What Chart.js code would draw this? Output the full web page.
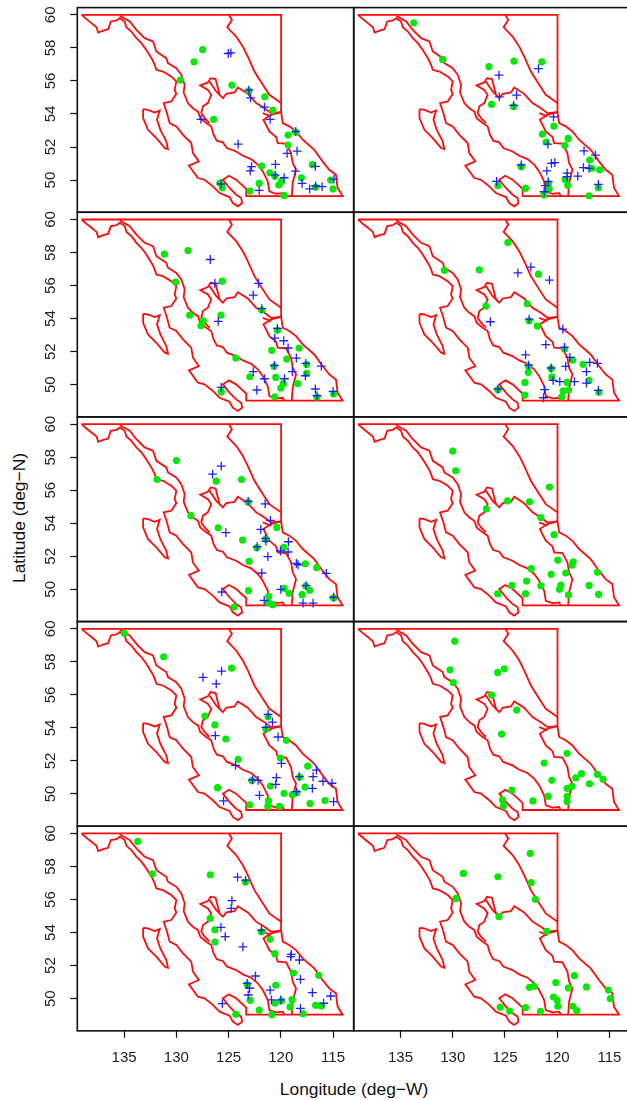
<!DOCTYPE html>
<html>
<head>
<meta charset="utf-8">
<script src="https://cdn.jsdelivr.net/npm/chart.js@4"></script>
<style>
  html, body { margin: 0; padding: 0; background: #fff; overflow: hidden; width: 627px; height: 1100px; }
  canvas { position: absolute; }
  .lab { position: absolute; font: 17.4px "Liberation Sans", Arial, sans-serif; color: #111; white-space: nowrap; }
</style>
</head>
<body>
<div class="lab" id="xlab" style="left:354px; top:1079px; transform:translateX(-50%)">Longitude (deg−W)</div>
<div class="lab" id="ylab" style="left:19px; top:518px; transform:translate(-50%,-50%) rotate(-90deg)">Latitude (deg−N)</div>
<script>
"use strict";

// map outlines, [lon, lat]
const coastOuter = [[139.07,60],[138.6,59.74],[138.12,59.5],[137.64,59.25],[137.48,58.93],[137,59.05],[136.53,59.13],[136.27,59.6],[135.73,59.66],[135.41,59.8],[134.94,59.6],[134.78,59.25],[134.3,58.99],[133.82,58.59],[133.34,58.29],[132.87,57.88],[132.29,57.28],[132.07,56.98],[131.91,56.67],[131.27,56.57],[130.48,56.27],[130,55.97],[130.16,55.46],[130,55.22],[130.48,54.76],[131.21,54.66],[130.89,54.05],[130.64,53.45],[130,53.25],[129.36,52.74],[128.57,52.24],[128.41,51.63],[127.84,51.13],[128.79,50.87],[127.93,50.12],[127.29,50.02],[126.5,49.62],[125.86,49.21],[124.91,48.97],[124.59,48.61],[124.11,48.41],[123.7,48.61],[123.79,48.91],[124.27,49.11],[124.91,49.52],[125.54,50.02],[124.97,50.26],[124.27,50.02],[123.31,49.46],[123.31,49.03],[114.08,49.03],[114.56,49.52],[114.72,50.32],[115.36,50.62],[116,51.13],[116.79,51.83],[117.9,52.44],[118.54,52.94],[119.18,53.25],[119.81,53.45],[119.97,54.11],[119.97,60],[139.07,60]];
const coastInner = [[135.41,59.94],[134.46,59.6],[133.82,59.09],[133.03,58.59],[132.23,58.39],[131.91,57.78],[130.96,57.38],[130.8,57.08],[130,56.77],[129.52,56.37],[129.2,55.77],[129.3,55.3],[128.89,54.66],[128.41,54.35],[127.93,54.15],[127.71,53.75],[127.14,53.45],[126.66,53.25],[126.43,52.74],[126.12,52.38],[125.54,52.28],[125.16,51.94],[124.27,51.73],[123.63,51.47],[122.84,51.27],[122.2,50.93],[121.72,50.52],[121.25,49.92],[121.09,49.31],[120.45,49.17],[119.81,49.21],[119.65,49.03]];
const plateau = [[126.82,53.45],[127.29,53.75],[127.61,54.05],[127.45,54.46],[126.98,54.66],[126.66,55.16],[126.98,55.46],[127.71,55.73],[126.98,55.91],[126.72,56.17],[126.24,56.11],[125.86,55.16],[125.54,54.96],[125.22,55.22],[124.43,55.3],[124.11,55.6],[123.16,55.22],[122.36,54.66],[121.56,54.35],[120.93,54.05],[119.97,54.11]];
const lakeLoop = [[126.82,55.97],[126.18,55.36],[125.86,55.16]];
const rockies = [[124.97,60],[124.68,59.7],[125.13,59.25],[124.27,58.69],[123.63,58.08],[123.16,57.48],[122.52,56.57],[121.72,55.77],[121.09,55.16],[119.97,54.66]];
const interiorEast = [[119.97,54.11],[120.93,53.95],[121.66,53.65],[121.09,52.94],[120.45,52.6],[120.29,52.24],[119.49,52.2],[119.02,51.63],[118.86,51.03],[118.54,50.63],[118.86,49.82],[118.95,49.03]];
const branch = [[121.72,54.05],[120.93,53.85]];
const haida = [[133.18,54.29],[132.71,54.25],[132.07,54.09],[131.59,54.21],[131.85,53.65],[131.53,53.04],[130.96,52.34],[130.8,51.87],[131.11,51.94],[131.91,52.54],[132.71,53.04],[133.18,53.75],[133.18,54.29]];

// panel 1
const green1 = [[127.48,57.9],[128.31,57.16],[129.62,56.05],[124.68,55.75],[123.06,55.4],[121.53,55.04],[120.77,54.23],[126.43,53.67],[119.3,52.72],[118.57,52.9],[119.3,52.12],[121.82,50.85],[121.05,50.44],[120.58,50.24],[119.94,49.9],[120.19,49.7],[122.07,49.8],[122.96,49.33],[119.68,49.07],[118.03,50.14],[116.98,50.93],[116.66,49.58],[115.23,50],[115,49.46],[125.83,49.82],[125.6,49.54]];
const blue1 = [[125.03,57.66],[124.78,57.7],[123.06,55.44],[122.9,54.98],[121.56,54.42],[121.02,53.67],[127.64,53.67],[118.57,52.94],[124.08,52.18],[119.4,51.61],[118.44,51.75],[122.8,50.81],[122.93,50.56],[120.51,50.95],[120.54,50.3],[119.68,50.14],[118.6,50.54],[116.69,50.83],[114.91,50.06],[117.96,49.8],[117.23,49.46],[116.66,49.64],[116.05,49.6],[122.07,49.37],[125.7,49.76]];
// panel 2
const green2 = [[133.73,59.52],[130.96,57.3],[126.53,56.87],[124.14,57.2],[121.47,57.16],[126.28,54.58],[124.17,54.44],[120.32,53.27],[121.41,52.78],[121.05,52.3],[118.95,52.52],[119.27,52.1],[116.88,51.21],[116.69,50.71],[115.93,50.62],[123.44,50.81],[125.67,49.66],[123.03,49.5],[119.24,50.04],[118.99,49.68],[120.83,49.8],[120.77,49.46],[121.28,49.09],[116.95,49.05],[116.06,49.54]];
const blue2 = [[125.57,56.35],[121.79,56.75],[125.54,55.04],[123.89,55.14],[124.17,54.52],[120.35,53.83],[120.89,52.18],[123.44,50.91],[120.55,51.01],[120.23,51.05],[117.43,51.77],[116.34,51.51],[117.49,50.75],[116.95,50.71],[120.99,50.56],[119.05,50.42],[119.05,50.2],[118.03,50.24],[120.86,49.9],[121.12,49.66],[121.25,49.29],[125.8,49.92],[116.06,49.74]];
// panel 3
const green3 = [[131.14,57.9],[128.88,58.12],[130.06,56.21],[125.6,56.27],[128.72,54.21],[125.73,54.21],[121.82,54.52],[127.42,53.87],[127.64,53.57],[124.3,51.61],[120.86,52.08],[120.32,53.29],[118.25,52.22],[119.43,51.55],[117.52,51.23],[120.64,51.11],[117.52,50.69],[120.48,50.44],[122.96,50.48],[119.75,50.06],[120,49.8],[118.38,50.06],[125.7,49.56],[120.58,49.27],[116.53,49.25],[114.94,49.44]];
const blue3 = [[126.75,57.58],[126.31,56.13],[122.13,56.13],[122.64,55.42],[121.82,54.6],[125.99,53.83],[120.32,53.41],[120.58,52.82],[119.72,52.66],[119.3,52.22],[118.51,51.61],[117.61,51.29],[116.12,51.13],[120.61,51.17],[122.64,50.79],[121.56,50.36],[118.89,50.79],[117.65,50.54],[119.65,50.36],[122.29,49.68],[125.7,49.84],[116.69,49.74],[116.53,49.33],[115,49.6]];
// panel 4
const green4 = [[124.72,58.61],[130.8,56.92],[127.45,56.96],[121.79,56.69],[126.82,54.76],[122.87,54.9],[122.68,53.87],[121.91,53.55],[119.3,52.16],[118.51,51.49],[117.52,51.23],[122.74,51.11],[122.77,50.75],[120.58,50.97],[120.51,50.48],[123.09,50.14],[119.05,50.14],[116.95,50.26],[123.09,49.37],[125.67,49.7],[119.43,49.62],[118.92,49.68],[119.56,49.27],[116,49.54]];
const blue4 = [[122.52,57.12],[123.76,56.77],[120.74,56.33],[126.4,53.81],[122.68,53.97],[119.46,53.37],[121.09,52.42],[119.3,52.26],[118.79,51.65],[123.03,51.81],[122.74,51.19],[120.58,51.01],[119.18,51.11],[116.88,51.35],[116.15,51.29],[117.2,50.79],[120.39,50.26],[119.75,50.18],[118.35,50.18],[117.2,50.1],[116.06,49.66],[121.21,49.7],[121.31,49.21],[125.67,49.74]];
// panel 5
const green5 = [[129.99,57.8],[131.85,56.65],[126.18,56.55],[123.76,56.65],[123.12,55.28],[128.6,54.46],[125.99,53.73],[120.38,53.75],[123.66,52.98],[121.43,53.04],[122.29,52.52],[119.72,52.54],[123.03,51.69],[117.65,51.55],[116.56,51.31],[119.68,50.06],[119.21,49.76],[123.09,49.92],[117.61,50.2],[117.23,49.94],[117.96,49.68],[121.15,49.58],[121.21,49.19],[120.77,49.07],[124.46,48.93],[114.94,49.48]];
const blue5 = [[125.7,57.46],[126.53,56.98],[123.12,55.32],[121.5,55.18],[120.99,54.17],[121.91,53.63],[125.26,53.43],[121.43,52.92],[121.46,53.08],[122.26,52.58],[119.27,52.88],[120.03,52.32],[119.3,52.26],[121.24,51.98],[118.51,51.57],[118.35,51.49],[121.82,50.99],[115.64,50.97],[117.58,50.22],[120,50],[125.64,49.84],[121.59,49.33],[117.87,49.17],[116.91,49.17],[114.94,49.52]];
// panel 6
const green6 = [[130,58.37],[129.71,57.18],[120.74,56.19],[124.75,55.36],[122.65,55.3],[126.78,54.88],[121.56,54.35],[120.29,53.31],[119.94,51.77],[118.47,51.67],[118.57,51.47],[122.49,51.25],[116.15,51.03],[119.18,50.99],[120.58,50.91],[122.93,50.5],[121.56,50.22],[119.65,50.26],[119.78,50],[124.33,50.24],[116.95,50.24],[123.03,49.74],[125.7,49.72],[118.92,49.66],[116.03,49.7]];
// panel 7
const green7 = [[134.97,59.72],[131.21,58.31],[124.71,57.62],[127.26,54.72],[126.31,54.19],[125.26,53.33],[121.21,54.68],[121.43,53.93],[119.46,53.25],[120.03,52.18],[124.08,52.1],[117.42,51.69],[118.19,51.03],[122.77,50.81],[120.99,50.48],[117.68,50.42],[126.05,50.38],[119.68,50.04],[118.89,49.96],[118.47,50.08],[117.2,49.42],[115.77,49.6],[121.18,49.58],[121.24,49.25],[122.96,49.35],[120.13,49.25]];
const blue7 = [[125.67,57.44],[127.45,57.06],[126.18,56.67],[121.21,54.82],[120.8,54.35],[121.43,54.03],[126.27,53.53],[120.26,53.45],[119.94,51.85],[124.33,51.73],[116.59,51.45],[116.91,51.05],[118.22,51.05],[122.71,50.85],[122.17,50.83],[120.42,50.99],[120.48,50.58],[115.96,50.77],[115.1,50.65],[116.98,50.34],[118.51,50.14],[122.04,49.92],[125.48,49.58],[114.94,49.54]];
// panel 8
const green8 = [[129.81,59.25],[130.26,57.52],[129.94,56.75],[125.07,57.58],[125.7,57.36],[126.28,55.99],[123.89,55.08],[125.32,53.63],[119.05,52.46],[121.25,51.87],[117.68,51.23],[118.22,50.97],[116.15,51.19],[115.61,50.89],[116.91,50.62],[120.51,50.83],[118.6,50.46],[119.05,50.34],[124.33,50.24],[120.86,49.86],[119.05,49.86],[119.05,49.54],[122.33,49.58],[125.23,49.64],[125.16,49.27]];
// panel 9
const green9 = [[133.69,59.52],[132.29,57.56],[126.75,57.5],[123.38,57.06],[126.75,54.86],[126.31,54.17],[126.31,53.43],[121.85,54.05],[121.02,53.59],[120.57,52.72],[118.79,51.55],[116.37,51.41],[123.22,50.85],[120.48,50.81],[122.93,49.9],[120.54,49.72],[119.94,49.86],[118.92,49.94],[119.11,49.5],[116.66,49.6],[116.12,49.56],[122.07,49.31],[120.86,49.03],[117.87,49.09],[124.3,49.05]];
const blue9 = [[124.14,57.36],[123.38,57.18],[124.68,55.93],[124.75,55.46],[125.73,54.31],[125.32,53.75],[123.63,53.13],[121.85,54.15],[119,52.68],[119.05,52.54],[118.22,52.34],[122.42,51.37],[123.22,50.93],[122.99,50.63],[123.12,50.22],[121.02,50.52],[120.89,49.92],[120,49.92],[118.12,51.17],[118.12,49.41],[116.98,50.36],[115.23,50.16],[115.9,49.72],[125.6,49.7]];
// panel 10
const green10 = [[128.98,57.58],[125.67,57.38],[122.58,58.79],[122.49,57.02],[122.1,56.01],[129.68,56.07],[125.57,54.96],[120.99,54.07],[118.35,51.39],[120.13,50.97],[122.2,50.75],[122.65,50.69],[118.92,50.65],[117.2,50.71],[115.1,50.52],[114.91,50],[120.35,50.1],[120,49.9],[119.94,49.54],[118.51,49.54],[118.13,49.27],[123.03,49.46],[121.6,49.23],[125.45,49.48],[124.56,49.25]];

const outlines = [coastOuter, coastInner, plateau, lakeLoop, rockies, interiorEast, branch, haida];
const panels = [
  [green1, blue1], [green2, blue2],
  [green3, blue3], [green4, blue4],
  [green5, blue5], [green6, []],
  [green7, blue7], [green8, []],
  [green9, blue9], [green10, []],
];

const xTicks = { min: 113.02, max: 139.48, step: 5 };
const yTicks = { min: 48.05, max: 60.44, step: 2 };

const frame = {
  id: "frame",
  afterDatasetsDraw(chart) {
    const a = chart.chartArea, c = chart.ctx;
    c.save();
    c.strokeStyle = "#111";
    c.lineWidth = 1.6;
    c.strokeRect(a.left, a.top, a.right - a.left, a.bottom - a.top);
    c.restore();
  },
};

function xy(list) { return list.map((p) => ({ x: p[0], y: p[1] })); }

function noPad(s) {
  s.paddingTop = 0; s.paddingBottom = 0; s.paddingLeft = 0; s.paddingRight = 0;
}

function panelChart(k) {
  const col = k % 2, row = (k - col) / 2;
  const boxTop = 7.6 + 204.65 * row, boxH = 204.65;
  const boxLeft = col ? 353.7 : 77.3, boxW = 276.4;
  const bottomRow = row === 4;

  const cv = document.createElement("canvas");
  const cx = col ? 340 : 0, cw = col ? 300 : 360;
  const cy = Math.floor(boxTop) - 4, ch = bottomRow ? 1100 - cy : Math.ceil(boxH) + 10;
  cv.width = cw; cv.height = ch;
  cv.style.left = cx + "px"; cv.style.top = cy + "px";
  cv.style.width = cw + "px"; cv.style.height = ch + "px";
  document.body.appendChild(cv);

  const axisH = bottomRow ? 60 : 0, axisW = col ? 0 : boxLeft;
  const pad = {
    left: boxLeft - cx - axisW,
    right: cx + cw - boxLeft - boxW,
    top: boxTop - cy,
    bottom: ch - (boxTop - cy) - boxH - axisH,
  };

  const datasets = [];
  datasets.push({ data: xy(panels[k][1]), pointStyle: "cross", pointRadius: 4.4, borderColor: "#2020ff", borderWidth: 1.3, showLine: false });
  datasets.push({ data: xy(panels[k][0]), pointStyle: "circle", pointRadius: 3.6, backgroundColor: "#08e808", borderWidth: 0, showLine: false });
  outlines.forEach((o) => {
    datasets.push({ data: xy(o), showLine: true, pointRadius: 0, borderColor: "#ff0a0a", borderWidth: 1.8, tension: 0, fill: false });
  });

  const tickFont = { family: "'Liberation Sans', Arial, sans-serif", size: 15 };
  return new Chart(cv, {
    type: "scatter",
    data: { datasets },
    plugins: [frame],
    options: {
      responsive: false,
      animation: false,
      devicePixelRatio: 1,
      layout: { padding: pad, autoPadding: false },
      plugins: { legend: { display: false }, tooltip: { enabled: false } },
      scales: {
        x: {
          type: "linear", reverse: true, min: xTicks.min, max: xTicks.max,
          display: bottomRow,
          afterFit(s) { s.height = axisH; noPad(s); },
          grid: { drawOnChartArea: false, tickLength: 7, tickColor: "#111", tickWidth: 1.2 },
          border: { display: false },
          ticks: { stepSize: xTicks.step, includeBounds: false, color: "#222", font: tickFont, padding: 11, maxRotation: 0, autoSkip: false },
        },
        y: {
          type: "linear", min: yTicks.min, max: yTicks.max,
          display: !col,
          afterFit(s) { s.width = axisW; noPad(s); },
          grid: { drawOnChartArea: false, tickLength: 7, tickColor: "#111", tickWidth: 1.2 },
          border: { display: false },
          ticks: { stepSize: yTicks.step, includeBounds: false, color: "#222", font: tickFont, padding: 11, minRotation: 90, maxRotation: 90, crossAlign: "center", autoSkip: false },
        },
      },
    },
  });
}

panels.forEach((p, k) => panelChart(k));
</script>
</body>
</html>
